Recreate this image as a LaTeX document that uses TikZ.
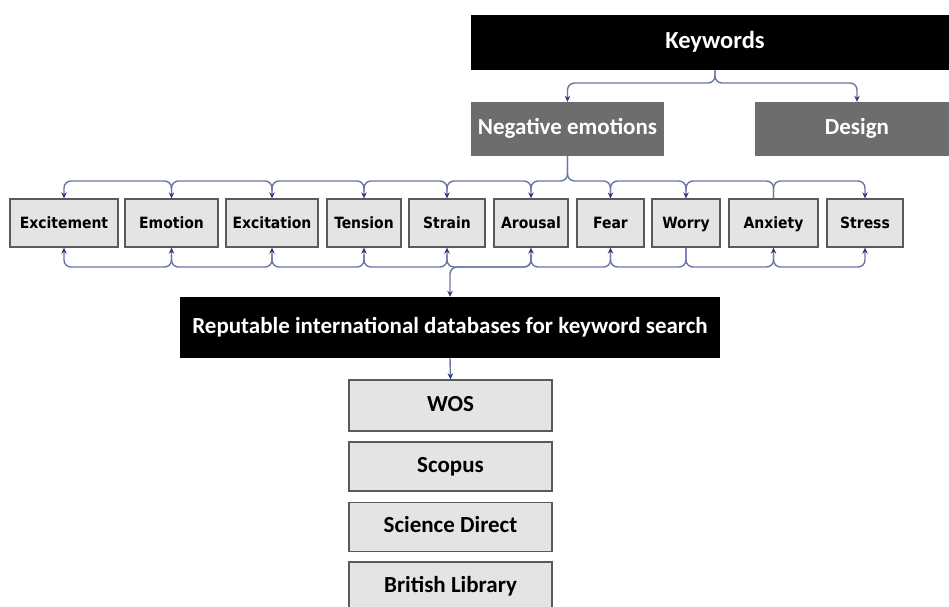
\documentclass[tikz,border=0pt]{standalone}
\usepackage{fontspec}
\usepackage{tikz}
\usepackage{xcolor}
\usetikzlibrary{arrows.meta}
\newfontfamily\bigfont{Carlito}
\newfontfamily\rowfont{DejaVu Sans Condensed}[BoldFont={DejaVu Sans Condensed Bold}]
\definecolor{catgray}{HTML}{6D6D6D}
\definecolor{cellgray}{HTML}{E4E4E4}
\definecolor{edgegray}{HTML}{5A5A5A}
\definecolor{linkblue}{HTML}{6A76A2}
\definecolor{tipblue}{HTML}{2F3D70}

\begin{document}
\begin{tikzpicture}[x=1pt, y=-1pt,
            keybox/.style={fill=black, text=white, font=\bigfont\bfseries\fontsize{23}{27}\selectfont, inner sep=0pt, text height=14.7pt, text depth=3.7pt},
            catbox/.style={fill=catgray, text=white, font=\bigfont\bfseries\fontsize{23}{27}\selectfont, inner sep=0pt, minimum height=54pt, text height=14.7pt, text depth=3.7pt},
            termbox/.style={draw=edgegray, line width=1.3pt, fill=cellgray, font=\rowfont\bfseries\fontsize{15.5}{18}\selectfont, inner sep=0pt, minimum height=48pt, text height=11.6pt, text depth=1.5pt},
            dbbox/.style={draw=edgegray, line width=1.3pt, fill=cellgray, font=\bigfont\bfseries\fontsize{23}{27}\selectfont, inner sep=0pt, minimum width=203pt, minimum height=49pt, text height=14.7pt, text depth=3.7pt},
            link/.style={draw=linkblue, line width=1.4pt, rounded corners=7pt},
            arrow/.style={link, -{Stealth[length=6pt, width=5.5pt, color=tipblue]}}
        ]
            \useasboundingbox (0,0) rectangle (949,606);

            % Keywords on top
            \node[keybox, minimum width=488pt, minimum height=55pt, font=\bigfont\bfseries\fontsize{24.5}{28}\selectfont] (key) at (715,42.5) {Keywords};

            % Categories below
            \node[catbox, minimum width=193pt] (neg) at (567.5,129) {Negative emotions};
            \node[catbox, minimum width=204pt] (design) at (857,129) {Design};

            % Terms in one row
            \node[termbox, minimum width=108pt] (excitement) at (64,223) {Excitement};
            \node[termbox, minimum width=93pt] (emotion) at (171.5,223) {Emotion};
            \node[termbox, minimum width=92pt] (excitation) at (272,223) {Excitation};
            \node[termbox, minimum width=74pt] (tension) at (364,223) {Tension};
            \node[termbox, minimum width=76pt] (strain) at (447,223) {Strain};
            \node[termbox, minimum width=74pt] (arousal) at (531,223) {Arousal};
            \node[termbox, minimum width=67pt] (fear) at (610.5,223) {Fear};
            \node[termbox, minimum width=68pt] (worry) at (686,223) {Worry};
            \node[termbox, minimum width=89pt] (anxiety) at (773.5,223) {Anxiety};
            \node[termbox, minimum width=76pt] (stress) at (865,223) {Stress};

            % Databases
            \node[keybox, minimum width=540pt, minimum height=61pt] (rep) at (450,327.5) {Reputable international databases for keyword search};
            \node[dbbox, minimum height=51pt] (wos) at (450.5,405.5) {WOS};
            \node[dbbox] (scopus) at (450.5,466.5) {Scopus};
            \node[dbbox] (direct) at (450.5,527) {Science Direct};
            \node[dbbox, minimum height=50pt] (british) at (450.5,587) {British Library};

            % Bus lines
            \coordinate (keybus) at (0,83);
            \coordinate (topbus) at (0,181);
            \coordinate (lowbus) at (0,267);

            \draw[arrow] (key.south) |- (neg.north |- keybus) -- (neg.north);
            \draw[arrow] (key.south) |- (design.north |- keybus) -- (design.north);

            % Upper connectors
            \draw[arrow] (neg.south) |- (arousal.north |- topbus) -- (arousal.north);
            \draw[arrow] ([yshift=7pt]arousal.north) |- (strain.north |- topbus) -- (strain.north);
            \draw[arrow] ([yshift=7pt]strain.north) |- (tension.north |- topbus) -- (tension.north);
            \draw[arrow] ([yshift=7pt]tension.north) |- (excitation.north |- topbus) -- (excitation.north);
            \draw[arrow] ([yshift=7pt]excitation.north) |- (emotion.north |- topbus) -- (emotion.north);
            \draw[arrow] ([yshift=7pt]emotion.north) |- (excitement.north |- topbus) -- (excitement.north);
            \draw[arrow] (neg.south) |- (fear.north |- topbus) -- (fear.north);
            \draw[arrow] ([yshift=7pt]fear.north) |- (worry.north |- topbus) -- (worry.north);
            \draw[link] ([yshift=7pt]worry.north) |- (anxiety.north |- topbus) -- (anxiety.north);
            \draw[arrow] (anxiety.north) |- (stress.north |- topbus) -- (stress.north);

            % Lower connectors
            \draw[arrow] (worry.south) |- (fear.south |- lowbus) -- (fear.south);
            \draw[arrow] ([yshift=-7pt]fear.south) |- (arousal.south |- lowbus) -- (arousal.south);
            \draw[arrow] ([yshift=-7pt]arousal.south) |- (strain.south |- lowbus) -- (strain.south);
            \draw[arrow] ([yshift=-7pt]strain.south) |- (tension.south |- lowbus) -- (tension.south);
            \draw[arrow] ([yshift=-7pt]tension.south) |- (excitation.south |- lowbus) -- (excitation.south);
            \draw[arrow] ([yshift=-7pt]excitation.south) |- (emotion.south |- lowbus) -- (emotion.south);
            \draw[arrow] ([yshift=-7pt]emotion.south) |- (excitement.south |- lowbus) -- (excitement.south);
            \draw[arrow] (worry.south) |- (anxiety.south |- lowbus) -- (anxiety.south);
            \draw[arrow] ([yshift=-7pt]anxiety.south) |- (stress.south |- lowbus) -- (stress.south);

            % Down to databases
            \draw[arrow] ([yshift=-7pt]arousal.south) |- (rep.north |- lowbus) -- (rep.north);
            \draw[arrow] (rep.south) -- (wos.north);

        \end{tikzpicture}
\end{document}
